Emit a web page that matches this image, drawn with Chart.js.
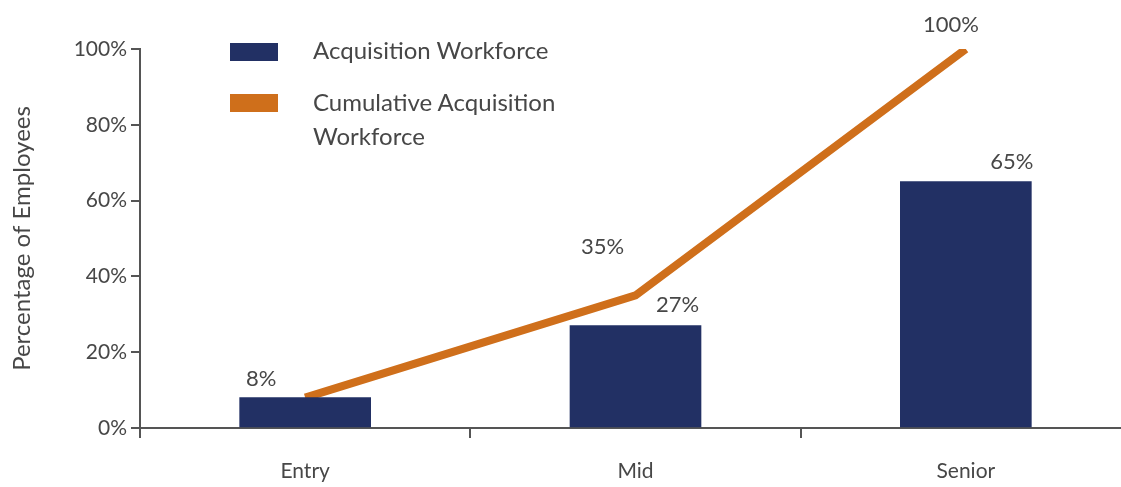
<!DOCTYPE html>
<html>
<head>
<meta charset="utf-8">
<script src="https://cdn.jsdelivr.net/npm/chart.js@4"></script>
<style>
  html, body { margin: 0; padding: 0; background: #fff; overflow: hidden; }
  #wrap { position: relative; width: 1135px; height: 487px; }
  #legend { position: absolute; left: 230px; top: 30px; font-family: Lato, "Open Sans", sans-serif; font-size: 24px; color: #474747; }
  .item { position: absolute; left: 0; white-space: nowrap; }
  .sw { position: absolute; left: 0; width: 48px; height: 18px; }
  .tx { position: absolute; left: 83px; line-height: 34px; }
</style>
</head>
<body>
<div id="wrap">
  <canvas id="c" width="1135" height="487"></canvas>
  <div id="legend"></div>
</div>
<script>
const categories = ["Entry", "Mid", "Senior"];
const barLabel = "Acquisition Workforce";
const lineLabel = "Cumulative Acquisition Workforce";
const barValues = [8, 27, 65];
const lineValues = [8, 35, 100];
const yTicks = [0, 20, 40, 60, 80, 100];
const yTitle = "Percentage of Employees";

const NAVY = "#223064";
const ORANGE = "#CF6F1B";
const TEXT = "#474747";
const AXIS = "#555555";
const FONT = "Lato, 'Open Sans', sans-serif";

// legend (HTML text)
const legend = document.getElementById("legend");
legend.innerHTML =
  '<div class="item" style="top:13px"><div class="sw" style="background:' + NAVY + ';top:0"></div>' +
  '<div class="tx" style="top:-10px">' + barLabel + '</div></div>' +
  '<div class="item" style="top:64px"><div class="sw" style="background:' + ORANGE + ';top:0"></div>' +
  '<div class="tx" style="top:-9px">Cumulative Acquisition<br>Workforce</div></div>';

// value label offsets (style, not data)
const labelOffsets = {
  0: [[-44, -19], [42, -21], [46, -20]],
  1: [[0, -30], [-33, -48], [-15, -24]]
};

const valueLabels = {
  id: "valueLabels",
  afterDatasetsDraw(chart) {
    const ctx = chart.ctx;
    ctx.save();
    ctx.font = "22px " + FONT;
    ctx.fillStyle = TEXT;
    ctx.textAlign = "center";
    ctx.textBaseline = "middle";
    chart.data.datasets.forEach((ds, di) => {
      const meta = chart.getDatasetMeta(di);
      meta.data.forEach((el, i) => {
        if (di === 1 && i === 0) return; // the 8% label belongs to the bar only
        const off = labelOffsets[di][i];
        ctx.fillText(ds.data[i] + "%", el.x + off[0], el.y + off[1]);
      });
    });
    ctx.restore();
  }
};

new Chart(document.getElementById("c"), {
  data: {
    labels: categories,
    datasets: [
      {
        type: "bar",
        label: barLabel,
        data: barValues,
        backgroundColor: NAVY,
        barThickness: 131,
        order: 1
      },
      {
        type: "line",
        label: lineLabel,
        data: lineValues,
        borderColor: ORANGE,
        borderWidth: 8,
        pointRadius: 0,
        tension: 0,
        borderCapStyle: "butt",
        order: 2
      }
    ]
  },
  options: {
    responsive: false,
    animation: false,
    layout: { padding: { top: 49, right: 4, left: 0, bottom: 0 } },
    plugins: { legend: { display: false }, tooltip: { enabled: false } },
    scales: {
      x: {
        offset: true,
        grid: { display: true, drawOnChartArea: false, drawTicks: true, tickLength: 10, color: AXIS, lineWidth: 2, offset: true },
        border: { display: true, color: AXIS, width: 2 },
        ticks: { color: TEXT, font: { family: FONT, size: 21 }, padding: 21 },
        afterFit(s) { s.height = 59; }
      },
      y: {
        min: 0,
        max: 100,
        afterBuildTicks(s) { s.ticks = yTicks.map(v => ({ value: v })); },
        grid: { display: true, drawOnChartArea: false, drawTicks: true, tickLength: 9, color: AXIS, lineWidth: 2 },
        border: { display: true, color: AXIS, width: 2 },
        ticks: { color: TEXT, font: { family: FONT, size: 21 }, padding: 4, callback: v => v + "%" },
        title: { display: true, text: yTitle, color: TEXT, font: { family: FONT, size: 24 }, padding: { top: 8, bottom: 0 } },
        afterFit(s) { s.width = 140; }
      }
    }
  },
  plugins: [valueLabels]
});
</script>
</body>
</html>
